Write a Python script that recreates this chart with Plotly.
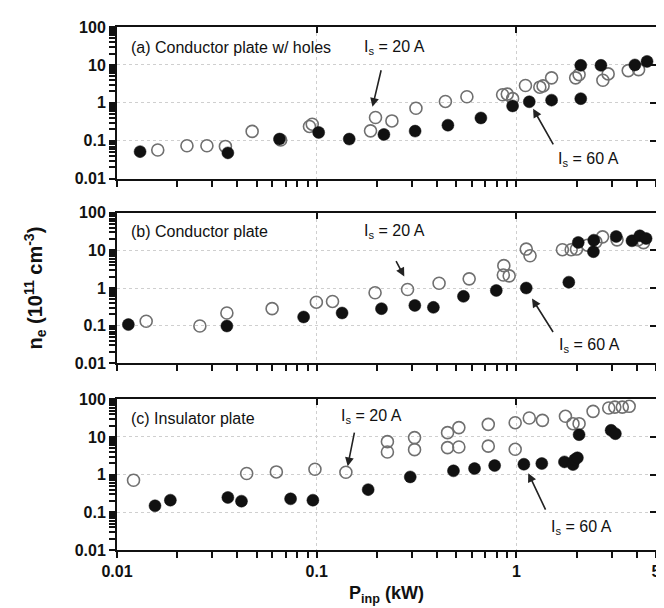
import numpy as np
import plotly.graph_objects as go

# ---------------- data (P_inp in kW, n_e in 1e11 cm^-3) ----------------
# (a) Conductor plate w/ holes
a_open_x = [0.016, 0.0224, 0.0282, 0.0349, 0.0475, 0.066, 0.092, 0.095, 0.186, 0.197, 0.238,
            0.314, 0.441, 0.565, 0.853, 0.90, 0.957, 1.11, 1.31, 1.36, 1.50, 1.98, 2.06, 2.71,
            2.88, 3.63, 4.09]
a_open_y = [0.057, 0.074, 0.074, 0.071, 0.177, 0.105, 0.239, 0.274, 0.183, 0.41, 0.334,
            0.72, 1.09, 1.45, 1.64, 1.7, 1.29, 2.87, 2.59, 2.8, 4.56, 4.56, 5.56, 3.94,
            5.8, 7.08, 7.5]
a_fill_x = [0.01305, 0.0359, 0.0651, 0.1023, 0.1455, 0.217, 0.311, 0.454, 0.664, 0.957, 1.16,
            1.50, 2.10, 2.10, 2.65, 3.92, 4.51]
a_fill_y = [0.0518, 0.048, 0.111, 0.166, 0.111, 0.147, 0.18, 0.258, 0.40, 0.83, 1.07,
            1.18, 1.29, 9.75, 9.75, 10.0, 12.4]

# (b) Conductor plate
b_open_x = [0.014, 0.026, 0.0355, 0.0598, 0.0996, 0.12, 0.196, 0.285, 0.41, 0.58, 0.865,
            0.86, 0.92, 1.12, 1.17, 1.70, 1.88, 2.0, 2.27, 2.5, 2.70, 3.19, 4.06, 4.33]
b_open_y = [0.131, 0.098, 0.217, 0.283, 0.42, 0.44, 0.75, 0.91, 1.34, 1.75, 3.92,
            2.22, 2.1, 10.8, 7.2, 10.4, 10.4, 10.8, 13.7, 16.8, 22.8, 19.0, 19.0, 16.0]
b_fill_x = [0.0114, 0.0355, 0.086, 0.134, 0.211, 0.31, 0.384, 0.543, 0.793, 1.12, 1.83,
            2.04, 2.44, 2.43, 3.16, 3.79, 4.15, 4.46]
b_fill_y = [0.107, 0.098, 0.17, 0.217, 0.283, 0.345, 0.306, 0.60, 0.86, 1.0, 1.43,
            16.2, 18.6, 9.2, 23.3, 17.9, 24.3, 20.6]

# (c) Insulator plate
c_open_x = [0.0121, 0.0446, 0.0628, 0.098, 0.14, 0.226, 0.226, 0.309, 0.309, 0.452, 0.515,
            0.452, 0.515, 0.723, 0.723, 0.986, 0.986, 1.16, 1.35, 1.76, 1.92, 2.06, 2.42,
            2.90, 3.11, 3.39, 3.67]
c_open_y = [0.71, 1.07, 1.18, 1.39, 1.16, 7.5, 4.0, 9.6, 4.6, 13.0, 17.7,
            5.2, 5.4, 21.6, 5.7, 23.9, 4.7, 31.9, 27.6, 35.3, 22.5, 22.5, 47.8,
            58.6, 62.0, 62.0, 65.0]
c_fill_x = [0.0155, 0.0185, 0.0359, 0.042, 0.074, 0.0957, 0.181, 0.294, 0.484, 0.617, 0.778,
            1.09, 1.34, 1.74, 1.92, 1.96, 2.02, 2.06, 2.98, 3.13]
c_fill_y = [0.149, 0.21, 0.248, 0.198, 0.228, 0.21, 0.40, 0.87, 1.26, 1.45, 1.74,
            1.89, 1.97, 2.18, 1.85, 2.51, 2.8, 11.5, 15.0, 12.2]

panel_labels = ["(a) Conductor plate w/ holes", "(b) Conductor plate", "(c) Insulator plate"]
x_ticks = [0.01, 0.1, 1, 5]
x_ticktext = ["0.01", "0.1", "1", "5"]
y_ticks = [0.01, 0.1, 1, 10, 100]
y_ticktext = ["0.01", "0.1", "1", "10", "100"]

FONT = "Liberation Sans, Arial, sans-serif"
INK = "#111111"
OPEN = "#707070"

X_RANGE = [-2, float(np.log10(5))]
Y_RANGE = [-2, 2]
x_minor = [m * 10.0 ** d for d in (-2, -1, 0) for m in range(2, 10) if m * 10.0 ** d < 5]
y_minor = [m * 10.0 ** d for d in (-2, -1, 0, 1) for m in range(2, 10)]

# combined tick lists (major labelled in bold, minor unlabelled)
x_all = x_ticks + x_minor
x_all_text = ["<b>%s</b>" % t for t in x_ticktext] + [""] * len(x_minor)
y_all = y_ticks + y_minor
y_all_text = ["<b>%s</b>" % t for t in y_ticktext] + [""] * len(y_minor)

fig = go.Figure()
panels = [(a_open_x, a_open_y, a_fill_x, a_fill_y),
          (b_open_x, b_open_y, b_fill_x, b_fill_y),
          (c_open_x, c_open_y, c_fill_x, c_fill_y)]
for i, (ox, oy, fx, fy) in enumerate(panels):
    n = "" if i == 0 else str(i + 1)
    fig.add_trace(go.Scatter(x=ox, y=oy, mode="markers", xaxis="x" + n, yaxis="y" + n,
                             marker=dict(symbol="circle-open", size=12, color=OPEN,
                                         line=dict(color=OPEN, width=1.6)),
                             showlegend=False, hoverinfo="skip"))
    fig.add_trace(go.Scatter(x=fx, y=fy, mode="markers", xaxis="x" + n, yaxis="y" + n,
                             marker=dict(symbol="circle", size=12, color=INK,
                                         line=dict(color=INK, width=0.5)),
                             showlegend=False, hoverinfo="skip"))

domains = [[0.7099, 1.0], [0.3569, 0.645], [0.0, 0.2882]]
layout = dict(
    width=664, height=608,
    margin=dict(l=109, r=11, t=18, b=66),
    paper_bgcolor="white", plot_bgcolor="white",
    font=dict(family=FONT, color=INK),
    showlegend=False,
)
tick_font = dict(size=16, family=FONT, color=INK)
grid = dict(showgrid=True, gridcolor="#cfcfcf", griddash="dot", gridwidth=1)
for i in range(3):
    n = "" if i == 0 else str(i + 1)
    base_x = "x" + n
    base_y = "y" + n
    layout["xaxis" + n] = dict(
        type="log", range=X_RANGE, domain=[0, 1], anchor=base_y,
        tickmode="array", tickvals=x_all, ticktext=x_all_text, showticklabels=(i == 2),
        ticks="outside", ticklen=6, tickwidth=1.5, tickcolor=INK,
        showline=True, linewidth=2, linecolor=INK, mirror=True,
        showgrid=False, zeroline=False, tickfont=tick_font,
    )
    layout["yaxis" + n] = dict(
        type="log", range=Y_RANGE, domain=domains[i], anchor=base_x,
        tickmode="array", tickvals=y_all, ticktext=y_all_text,
        ticks="outside", ticklen=6, tickwidth=1.5, tickcolor=INK,
        showline=True, linewidth=2, linecolor=INK, mirror=True,
        showgrid=False, zeroline=False, tickfont=tick_font,
    )
    # overlay axes: major gridlines plus inward ticks on top and right
    k = 4 + i
    layout["xaxis%d" % k] = dict(
        type="log", range=X_RANGE, overlaying=base_x, anchor=base_y, side="top",
        tickmode="array", tickvals=x_ticks, showticklabels=False,
        ticks="inside", ticklen=6, tickwidth=1.5, tickcolor=INK,
        showline=False, zeroline=False, **grid)
    layout["yaxis%d" % k] = dict(
        type="log", range=Y_RANGE, overlaying=base_y, anchor=base_x, side="right",
        tickmode="array", tickvals=y_ticks, showticklabels=False,
        ticks="inside", ticklen=6, tickwidth=1.5, tickcolor=INK,
        showline=False, zeroline=False, **grid)
    fig.add_trace(go.Scatter(x=[0.5], y=[1], mode="markers", xaxis="x%d" % k, yaxis=base_y,
                             marker=dict(size=1, opacity=0), showlegend=False, hoverinfo="skip"))
    fig.add_trace(go.Scatter(x=[0.5], y=[1], mode="markers", xaxis=base_x, yaxis="y%d" % k,
                             marker=dict(size=1, opacity=0), showlegend=False, hoverinfo="skip"))
fig.update_layout(**layout)

# annotations: (label_y, 20A text x, y, 20A head x, y, ax, ay, 60A text x, y, 60A head x, y, ax, ay)
ann_pos = [
    (0.868, 0.515, 0.868, 0.474, 0.474, 9, -38, 0.875, 0.125, 0.772, 0.461, 21, 37),
    (0.874, 0.515, 0.874, 0.533, 0.576, -9, -17, 0.877, 0.119, 0.770, 0.430, 22, 35),
    (0.874, 0.472, 0.887, 0.428, 0.556, 7, -35, 0.862, 0.146, 0.763, 0.510, 18, 38),
]
anns = []
for i, p in enumerate(ann_pos):
    n = "" if i == 0 else str(i + 1)
    xr, yr = "x" + n + " domain", "y" + n + " domain"
    anns.append(dict(text=panel_labels[i], x=0.022, y=p[0], xref=xr, yref=yr,
                     xanchor="left", yanchor="middle", showarrow=False,
                     font=dict(size=16, family=FONT, color=INK)))
    anns.append(dict(text="I<sub>s</sub> = 20 A", x=p[1], y=p[2], xref=xr, yref=yr,
                     xanchor="center", yanchor="middle", showarrow=False,
                     font=dict(size=16, family=FONT, color=INK)))
    anns.append(dict(text="", x=p[3], y=p[4], xref=xr, yref=yr, ax=p[5], ay=p[6],
                     showarrow=True, arrowhead=2, arrowsize=1.1, arrowwidth=1.6,
                     arrowcolor="#222"))
    anns.append(dict(text="I<sub>s</sub> = 60 A", x=p[7], y=p[8], xref=xr, yref=yr,
                     xanchor="center", yanchor="middle", showarrow=False,
                     font=dict(size=16, family=FONT, color=INK)))
    anns.append(dict(text="", x=p[9], y=p[10], xref=xr, yref=yr, ax=p[11], ay=p[12],
                     showarrow=True, arrowhead=2, arrowsize=1.1, arrowwidth=1.6,
                     arrowcolor="#222"))

anns.append(dict(text="<b>n<sub>e</sub> (10<sup>11</sup> cm<sup>-3</sup>)</b>",
                 x=-0.152, y=0.5, xref="paper", yref="paper", textangle=-90,
                 xanchor="center", yanchor="middle", showarrow=False,
                 font=dict(size=20, family=FONT, color=INK)))
anns.append(dict(text="<b>P<sub>inp</sub> (kW)</b>", x=0.5, y=-0.086,
                 xref="paper", yref="paper", xanchor="center", yanchor="middle",
                 showarrow=False, font=dict(size=18, family=FONT, color=INK)))
fig.update_layout(annotations=anns)

fig.write_html("out.html")
